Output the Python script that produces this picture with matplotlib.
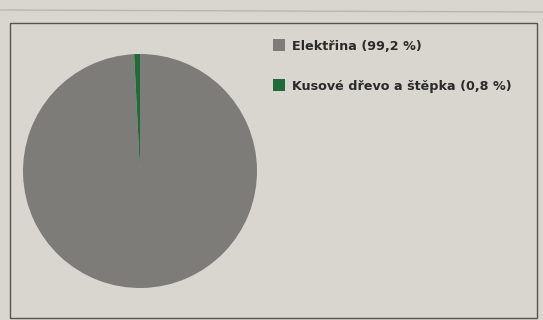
import matplotlib
matplotlib.use("Agg")
import matplotlib.pyplot as plt
from matplotlib.patches import Rectangle

categories = ["Elektřina", "Kusové dřevo a štěpka"]
shares = [99.2, 0.8]
labels = ["Elektřina (99,2 %)", "Kusové dřevo a štěpka (0,8 %)"]
colors = ["#7d7c78", "#1f6b3c"]

W, H = 543, 320
fig = plt.figure(figsize=(W / 100, H / 100), dpi=100)
fig.patch.set_facecolor("#d8d6cf")

# chart frame
fig.add_artist(Rectangle((10 / W, 1 - 318 / H), 527 / W, 295 / H,
                         transform=fig.transFigure, fill=False,
                         edgecolor="#55544f", linewidth=1.0))
fig.add_artist(plt.Line2D([0, 1], [1 - 10 / H, 1 - 12 / H], transform=fig.transFigure,
                          color="#b9b7b0", linewidth=1.0))

cx, cy, r = 140, 171, 117
ax = fig.add_axes([(cx - r) / W, (H - cy - r) / H, 2 * r / W, 2 * r / H])
wedges, _ = ax.pie(shares, colors=colors, startangle=90, counterclock=False,
                   wedgeprops=dict(linewidth=0))
ax.set_xlim(-1, 1)
ax.set_ylim(-1, 1)
ax.set_aspect("auto")
ax.axis("off")

leg = fig.legend(wedges, labels, loc="upper left",
                 bbox_to_anchor=(261 / W, 1 - 28 / H),
                 frameon=False, prop=dict(size=9.2, weight="bold"),
                 handlelength=1.0, handleheight=1.0, handletextpad=0.55,
                 labelspacing=2.1)
for t in leg.get_texts():
    t.set_color("#2a2a28")

fig.savefig("out.png", dpi=100, facecolor=fig.get_facecolor())
